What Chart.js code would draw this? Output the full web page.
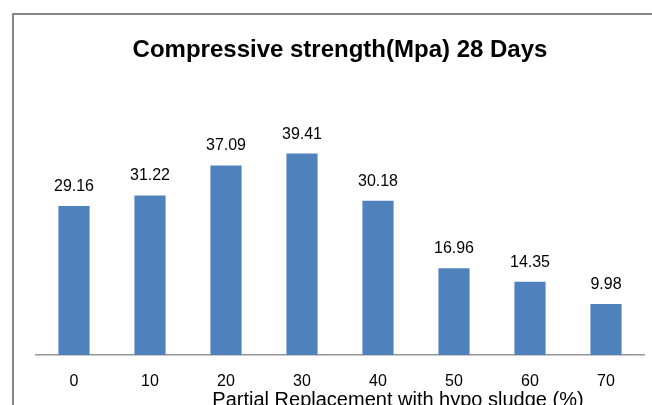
<!DOCTYPE html>
<html>
<head>
<meta charset="utf-8">
<script src="https://cdn.jsdelivr.net/npm/chart.js@4"></script>
<style>
html,body{margin:0;padding:0;background:#fff;overflow:hidden;}
#wrap{position:relative;width:652px;height:409px;}
</style>
</head>
<body>
<div id="wrap"><canvas id="c"></canvas></div>
<script>
const categories = ["0","10","20","30","40","50","60","70"];
const strength28 = [29.16, 31.22, 37.09, 39.41, 30.18, 16.96, 14.35, 9.98];
const valueLabels = ["29.16","31.22","37.09","39.41","30.18","16.96","14.35","9.98"];
const chartTitle = 'Compressive strength(Mpa) 28 Days';
const xAxisTitle = 'Partial Replacement with hypo sludge (%)';

const FONT = "'Liberation Sans', Arial, sans-serif";

const framePlugin = {
  id: 'frame',
  beforeDraw(chart) {
    const ctx = chart.ctx;
    ctx.save();
    ctx.fillStyle = '#ffffff';
    ctx.fillRect(0, 0, chart.width, chart.height);
    ctx.strokeStyle = '#878787';
    ctx.lineWidth = 2;
    ctx.strokeRect(13, 14, chart.width + 40, chart.height + 40);
    ctx.restore();
  }
};

const labelPlugin = {
  id: 'valueLabels',
  afterDatasetsDraw(chart) {
    const ctx = chart.ctx;
    const meta = chart.getDatasetMeta(0);
    ctx.save();
    ctx.font = "16px " + FONT;
    ctx.fillStyle = '#000000';
    ctx.textAlign = 'center';
    ctx.textBaseline = 'alphabetic';
    meta.data.forEach((bar, i) => {
      ctx.fillText(valueLabels[i], bar.x, bar.y - 15);
    });
    // x axis title (offset to the right as in the original)
    const xs = chart.scales.x;
    ctx.font = "20px " + FONT;
    ctx.textBaseline = 'alphabetic';
    ctx.fillText(xAxisTitle, 398, xs.bottom - 3);
    ctx.restore();
  }
};

new Chart(document.getElementById('c'), {
  type: 'bar',
  data: {
    labels: categories,
    datasets: [{
      data: strength28,
      backgroundColor: '#4F81BD',
      borderWidth: 0,
      categoryPercentage: 1.0,
      barPercentage: 0.41
    }]
  },
  options: {
    responsive: true,
    maintainAspectRatio: false,
    animation: false,
    layout: { padding: { left: 36, right: 8, top: 0, bottom: 0 } },
    plugins: {
      legend: { display: false },
      tooltip: { enabled: false },
      title: {
        display: true,
        text: chartTitle,
        color: '#000000',
        font: { family: FONT, size: 24, weight: 'bold', lineHeight: 1.2 },
        padding: { top: 36, bottom: 60.2 }
      }
    },
    scales: {
      x: {
        grid: { display: false, drawTicks: false },
        border: { display: true, color: '#969696', width: 1.5 },
        ticks: { color: '#000000', font: { family: FONT, size: 16 }, padding: 17 },
        afterFit(scale) { scale.height = 54; }
      },
      y: {
        display: false,
        min: 0,
        max: 45
      }
    }
  },
  plugins: [framePlugin, labelPlugin]
});
</script>
</body>
</html>
